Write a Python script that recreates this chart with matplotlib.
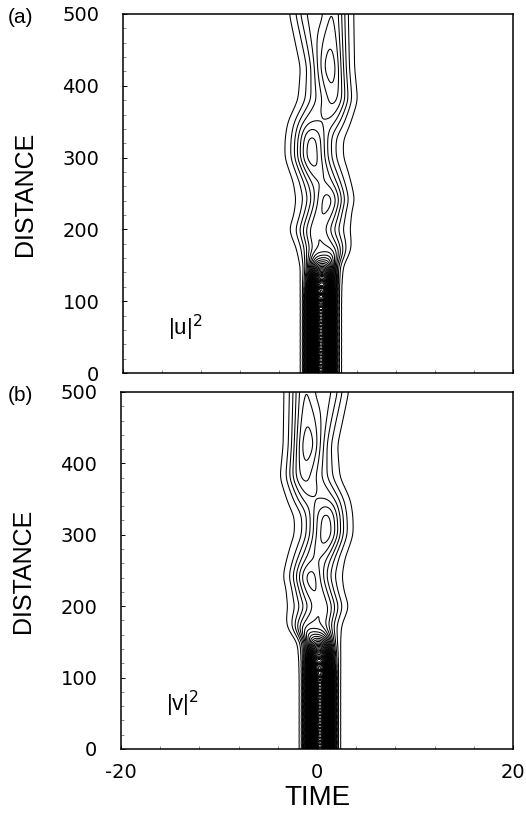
import numpy as np
import matplotlib
matplotlib.use("Agg")
import matplotlib.pyplot as plt

plt.rcParams["axes.unicode_minus"] = False

# Pulse-evolution parameters for the two field components.
# Each component is built from two sub-pulses (left / right channel):
# centre (time), peak intensity and rms width, given at a set of distances.
z_knots = [0, 60, 100, 125, 148, 171, 199, 223, 241, 265, 300, 325, 350, 380, 425, 470, 500]
pulse_width = [0.6, 0.6, 0.6, 0.62, 0.7, 0.9, 1.2, 1.1, 1.2, 1.1, 1.2, 1.2, 1.1, 1.1, 1.05, 1.05, 1.05]

u_left_centre = [-0.15, -0.15, -0.15, -0.2, -0.15, -0.3, -0.5, -0.3, -0.3, -0.4, -0.8, -0.8, -1.0, -0.2, 0.0, -0.6, -1.0]
u_left_peak = [4.8, 4.8, 4.8, 3.0, 1.5, 0.8, 0.85, 0.6, 0.3, 0.6, 1.05, 1.0, 0.6, 0.4, 0.4, 0.5, 0.55]
u_right_centre = [0.75, 0.75, 0.75, 0.8, 0.9, 1.5, 1.2, 1.2, 1.2, 1.3, 0.8, 0.8, 1.3, 1.8, 1.5, 1.5, 1.5]
u_right_peak = [4.8, 4.8, 4.8, 3.5, 1.5, 0.9, 0.4, 0.75, 1.0, 0.6, 0.25, 0.25, 0.6, 0.85, 1.0, 0.9, 0.85]

v_left_centre = [-0.15, -0.15, -0.15, -0.2, -0.3, -1.2, -0.9, -0.9, -0.9, -1.0, -0.5, -0.5, -1.0, -1.5, -1.2, -1.2, -1.2]
v_left_peak = [4.8, 4.8, 4.8, 3.5, 1.5, 0.9, 0.4, 0.75, 1.0, 0.6, 0.25, 0.25, 0.6, 0.85, 1.0, 0.9, 0.85]
v_right_centre = [0.75, 0.75, 0.75, 0.8, 0.75, 0.6, 0.8, 0.6, 0.6, 0.7, 1.1, 1.1, 1.3, 0.5, 0.3, 0.9, 1.3]
v_right_peak = [4.8, 4.8, 4.8, 3.0, 1.5, 0.8, 0.85, 0.6, 0.3, 0.6, 1.05, 1.0, 0.6, 0.4, 0.4, 0.5, 0.55]

# weak short-period breathing of the bound pair near the input
breathing_depth = [0.03, 0.03, 0.03, 0.02, 0.0, 0.0, 0.0, 0.0, 0.0, 0.0, 0.0, 0.0, 0.0, 0.0, 0.0, 0.0, 0.0]
breathing_period = 9.0

contour_levels = np.arange(0.1, 12.0, 0.16)

time_ticks = [-20, 0, 20]
distance_ticks = [0, 100, 200, 300, 400, 500]

t = np.linspace(-20, 20, 2401)
z = np.linspace(0, 500, 1001)


def track(values):
    """Smooth profile of a knot table along the distance axis."""
    prof = np.interp(z, z_knots, values)
    n = 60
    k = np.arange(-n, n + 1)
    g = np.exp(-0.5 * (k / 14.0) ** 2)
    g /= g.sum()
    padded = np.pad(prof, n, mode="edge")
    return np.convolve(padded, g, mode="valid")


def intensity(lc, lp, rc, rp):
    T = t[None, :]
    s = track(pulse_width)[:, None]
    breathe = 1.0 + track(breathing_depth) * np.cos(2 * np.pi * z / breathing_period)
    field = np.zeros((z.size, t.size))
    for c, a in ((lc, lp), (rc, rp)):
        amp = (track(a) * breathe)[:, None]
        field += amp * np.exp(-0.5 * ((T - track(c)[:, None]) / s) ** 2)
    return field


fig = plt.figure(figsize=(5.26, 8.18), dpi=100)
ax_a = fig.add_axes([0.2338, 0.544, 0.7414, 0.4389])
ax_b = fig.add_axes([0.2300, 0.0844, 0.7452, 0.4364])

num_font = ["DejaVu Sans"]
word_font = ["Liberation Sans", "DejaVu Sans"]

panels = [
    (ax_a, intensity(u_left_centre, u_left_peak, u_right_centre, u_right_peak), "|u|$^2$"),
    (ax_b, intensity(v_left_centre, v_left_peak, v_right_centre, v_right_peak), "|v|$^2$"),
]

for ax, field, name in panels:
    ax.contour(t, z, field, levels=contour_levels, colors="black", linewidths=0.75)
    ax.set_xlim(-20, 20)
    ax.set_ylim(0, 500)
    ax.set_xticks(time_ticks)
    ax.set_xticks(np.arange(-20, 21, 4), minor=True)
    ax.set_yticks(distance_ticks)
    ax.set_yticks(np.arange(0, 501, 20), minor=True)
    ax.tick_params(which="both", direction="in", top=False, right=False)
    ax.tick_params(which="major", length=3, width=0.7)
    ax.tick_params(which="minor", length=2.5, width=0.5, color="0.35")
    ax.tick_params(axis="y", which="major", pad=17, labelsize=14)
    ax.tick_params(axis="x", which="major", pad=10, labelsize=14)
    for lab in ax.get_yticklabels() + ax.get_xticklabels():
        lab.set_family(num_font)
    for sp in ax.spines.values():
        sp.set_linewidth(1.1)
    ax.set_ylabel("DISTANCE", family=word_font, fontsize=18)
    ax.yaxis.set_label_coords(-0.22, 0.5)
    ax.text(-15.4, 63, name, family=word_font, fontsize=16, va="center", ha="left")

ax_a.text(-0.295, 0.99, "(a)", transform=ax_a.transAxes, family=word_font,
          fontsize=15, ha="left", va="center")
ax_b.text(-0.29, 0.99, "(b)", transform=ax_b.transAxes, family=word_font,
          fontsize=15, ha="left", va="center")

ax_a.tick_params(axis="x", labelbottom=False)
ax_b.set_xlabel("TIME", family=word_font, fontsize=20, labelpad=2)

fig.savefig("out.png", dpi=100)
